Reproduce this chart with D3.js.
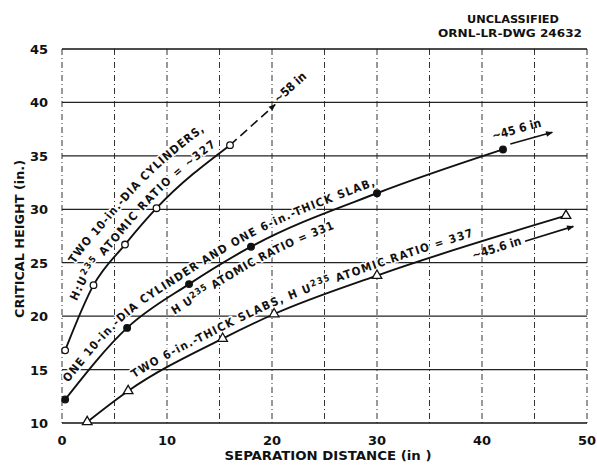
<!DOCTYPE html>
<html><head><meta charset="utf-8">
<script src="https://cdn.jsdelivr.net/npm/d3@7"></script>
<style>
body{margin:0;background:#fff;}
svg{display:block;}
text{font-family:"DejaVu Sans Condensed","DejaVu Sans",sans-serif;font-weight:bold;fill:#111;}
</style></head><body>
<svg id="c" width="597" height="466"></svg>
<script>
// ---- data ----
const xTicks = [0, 10, 20, 30, 40, 50];
const yTicks = [10, 15, 20, 25, 30, 35, 40, 45];
const xGrid = [0, 5, 10, 15, 20, 25, 30, 35, 40, 45, 50];
const yGrid = [15, 20, 25, 30, 35, 40];
// two 10-in.-dia cylinders (open circles)
const cylX = [0.3, 3.0, 6.0, 9.0, 16.0];
const cylY = [16.8, 22.9, 26.7, 30.1, 36.0];
// one cylinder + one slab (filled circles)
const mixX = [0.3, 6.2, 12.1, 18.0, 30.0, 42.0];
const mixY = [12.2, 18.9, 23.0, 26.5, 31.5, 35.6];
// two 6-in.-thick slabs (open triangles)
const slabX = [2.4, 6.3, 15.3, 20.2, 30.0, 48.0];
const slabY = [10.1, 13.0, 17.9, 20.2, 23.8, 29.4];
// extrapolation arrows [x0,y0,x1,y1] in data units and their labels
const cylArrow = [16.0, 36.0, 20.3, 39.8];
const mixArrow = [42.7, 36.1, 46.7, 37.2];
const slabArrow = [44.1, 27.0, 48.7, 28.4];
const arrowLabels = ["~58 in", "~45 6 in", "~45.6 in"];
const header = ["UNCLASSIFIED", "ORNL-LR-DWG 24632"];
const xTitle = "SEPARATION DISTANCE (in )";
const yTitle = "CRITICAL HEIGHT (in.)";

// ---- layout ----
const svg = d3.select("#c");
const x = d3.scaleLinear().domain([0, 50]).range([62, 587]);
const y = d3.scaleLinear().domain([10, 45]).range([423, 49]);

const defs = svg.append("defs");
defs.append("marker").attr("id","ah").attr("viewBox","0 0 10 10").attr("refX",9).attr("refY",5)
  .attr("markerWidth",9).attr("markerHeight",7).attr("markerUnits","userSpaceOnUse").attr("orient","auto")
  .append("path").attr("d","M0,1 L10,5 L0,9 Z").attr("fill","#111");

// grid
const g = svg.append("g");
g.selectAll(".vg").data(xGrid).join("line")
  .attr("x1", d => x(d)).attr("x2", d => x(d)).attr("y1", y(45)).attr("y2", y(10))
  .attr("stroke", "#333").attr("stroke-width", 1).attr("stroke-dasharray", "6,3,1,3");
g.selectAll(".hg").data(yGrid).join("line")
  .attr("x1", x(0)).attr("x2", x(50)).attr("y1", d => y(d)).attr("y2", d => y(d))
  .attr("stroke", "#222").attr("stroke-width", 1.3);
g.append("line").attr("x1", x(0)).attr("x2", x(50)).attr("y1", y(45)).attr("y2", y(45)).attr("stroke","#111").attr("stroke-width",1.6);
g.append("line").attr("x1", x(0)).attr("x2", x(50)).attr("y1", y(10)).attr("y2", y(10)).attr("stroke","#111").attr("stroke-width",1.6);

// tick labels
svg.selectAll(".yt").data(yTicks).join("text")
  .attr("x", 48).attr("y", d => y(d) + 5).attr("text-anchor", "end")
  .style("font-family", '"DejaVu Sans",sans-serif').style("font-size", "13px").text(d => d);
svg.selectAll(".xt").data(xTicks).join("text")
  .attr("x", d => x(d)).attr("y", 445).attr("text-anchor", "middle")
  .style("font-family", '"DejaVu Sans",sans-serif').style("font-size", "13px").text(d => d);

// titles
svg.append("text").attr("x", 328).attr("y", 460).attr("text-anchor","middle")
  .style("font-size","12.5px").attr("textLength",207).attr("lengthAdjust","spacingAndGlyphs").text(xTitle);
svg.append("text").attr("transform","translate(24,239) rotate(-90)").attr("text-anchor","middle")
  .style("font-size","12.5px").attr("textLength",158).attr("lengthAdjust","spacingAndGlyphs").text(yTitle);
svg.append("text").attr("x", 513).attr("y", 23).attr("text-anchor","middle")
  .style("font-size","10.5px").attr("textLength",92).attr("lengthAdjust","spacingAndGlyphs").text(header[0]);
svg.append("text").attr("x", 510).attr("y", 37).attr("text-anchor","middle")
  .style("font-size","10.5px").attr("textLength",144).attr("lengthAdjust","spacingAndGlyphs").text(header[1]);

// curves
const line = d3.line().x(d => x(d[0])).y(d => y(d[1])).curve(d3.curveMonotoneX);
const series = [
  {id:"cyl", pts: d3.zip(cylX, cylY), mark:"open"},
  {id:"mix", pts: d3.zip(mixX, mixY), mark:"filled"},
  {id:"slab", pts: d3.zip(slabX, slabY), mark:"tri"}
];
const hidden = svg.append("g").attr("visibility","hidden");
series.forEach(s => { s.node = hidden.append("path").attr("d", line(s.pts)).node(); });

function offsetPath(node, off, ext) {
  const L = node.getTotalLength(), pts = [];
  const tan = s => { const a = node.getPointAtLength(Math.max(0, s - 1)), b = node.getPointAtLength(Math.min(L, s + 1));
    const dx = b.x - a.x, dy = b.y - a.y, n = Math.hypot(dx, dy) || 1; return [dx / n, dy / n]; };
  for (let s = 0; s <= L; s += 2) {
    const p = node.getPointAtLength(s), t = tan(s);
    pts.push([p.x + t[1] * off, p.y - t[0] * off]);
  }
  const pe = node.getPointAtLength(L), te = tan(L);
  const last = [pe.x + te[1] * off, pe.y - te[0] * off];
  pts.push([last[0] + te[0] * ext, last[1] + te[1] * ext]);
  return d3.line()(pts);
}

const labels = [
  {s:0, off:27, start:84, len:188, parts:[["TWO 10-in.-DIA CYLINDERS,"]]},
  {s:0, off:8, start:50, len:212, parts:[["H:U"],["235","sup"],[" ATOMIC RATIO = ~327"]]},
  {s:1, off:8, start:15, len:372, parts:[["ONE 10-in.-DIA CYLINDER AND ONE 6-in.-THICK SLAB,"]]},
  {s:1, off:-18, start:136, len:183, parts:[["H U"],["235","sup"],[" ATOMIC RATIO = 331"]]},
  {s:2, off:7, start:64, len:370, parts:[["TWO 6-in.-THICK SLABS, H U"],["235","sup"],[" ATOMIC RATIO = 337"]]}
];
const lg = svg.append("g");
labels.forEach((lb, i) => {
  const pid = "lp" + i;
  defs.append("path").attr("id", pid).attr("d", offsetPath(series[lb.s].node, lb.off, 60));
  const t = lg.append("text").style("font-size", "11.5px")
    .attr("stroke", "#fff").attr("stroke-width", 3).attr("paint-order", "stroke").attr("stroke-linejoin","round");
  const tp = t.append("textPath").attr("href", "#" + pid).attr("startOffset", lb.start);
  let prevSup = false;
  lb.parts.forEach(p => {
    const ts = tp.append("tspan").text(p[0]);
    if (p[1] === "sup") { ts.attr("dy", -4).style("font-size", "9px"); prevSup = true; }
    else if (prevSup) { ts.attr("dy", 4); prevSup = false; }
  });
  const cur = t.node().getComputedTextLength();
  const n = lb.parts.map(p => p[0]).join("").length;
  t.style("letter-spacing", ((lb.len - cur) / n) + "px");
});

// arrows
function arrow(a, dashed) {
  const ln = svg.append("line").attr("x1", x(a[0])).attr("y1", y(a[1])).attr("x2", x(a[2])).attr("y2", y(a[3]))
    .attr("stroke", "#111").attr("stroke-width", 1.6).attr("marker-end", "url(#ah)");
  if (dashed) ln.attr("stroke-dasharray", "9,5");
}
arrow(cylArrow, true);
arrow(mixArrow, false);
arrow(slabArrow, false);
function ang(a) { return Math.atan2(y(a[3]) - y(a[1]), x(a[2]) - x(a[0])) * 180 / Math.PI; }
svg.append("text").attr("transform", `translate(${x(cylArrow[2]) + 3},${y(cylArrow[3]) - 1}) rotate(${ang(cylArrow)})`)
  .style("font-size","12px").text(arrowLabels[0]);
svg.append("text").attr("transform", `translate(${x(mixArrow[0]) - 17},${y(mixArrow[1]) - 4}) rotate(${ang(mixArrow)})`)
  .style("font-size","12px").text(arrowLabels[1]);
svg.append("text").attr("transform", `translate(${x(slabArrow[0]) - 3},${y(slabArrow[1]) + 3}) rotate(${ang(slabArrow)})`)
  .attr("text-anchor","end").style("font-size","12px").text(arrowLabels[2]);

// curves + markers
series.forEach(s => {
  svg.append("path").attr("d", line(s.pts)).attr("fill", "none").attr("stroke", "#111").attr("stroke-width", 1.9);
  const mg = svg.append("g");
  if (s.mark === "tri") {
    mg.selectAll("path").data(s.pts).join("path")
      .attr("transform", d => `translate(${x(d[0])},${y(d[1])})`)
      .attr("d", d3.symbol(d3.symbolTriangle, 40)())
      .attr("fill", "#fff").attr("stroke", "#111").attr("stroke-width", 1.3);
  } else {
    mg.selectAll("circle").data(s.pts).join("circle")
      .attr("cx", d => x(d[0])).attr("cy", d => y(d[1])).attr("r", 3.3)
      .attr("fill", s.mark === "open" ? "#fff" : "#111").attr("stroke", "#111").attr("stroke-width", 1.3);
  }
});
</script></body></html>
